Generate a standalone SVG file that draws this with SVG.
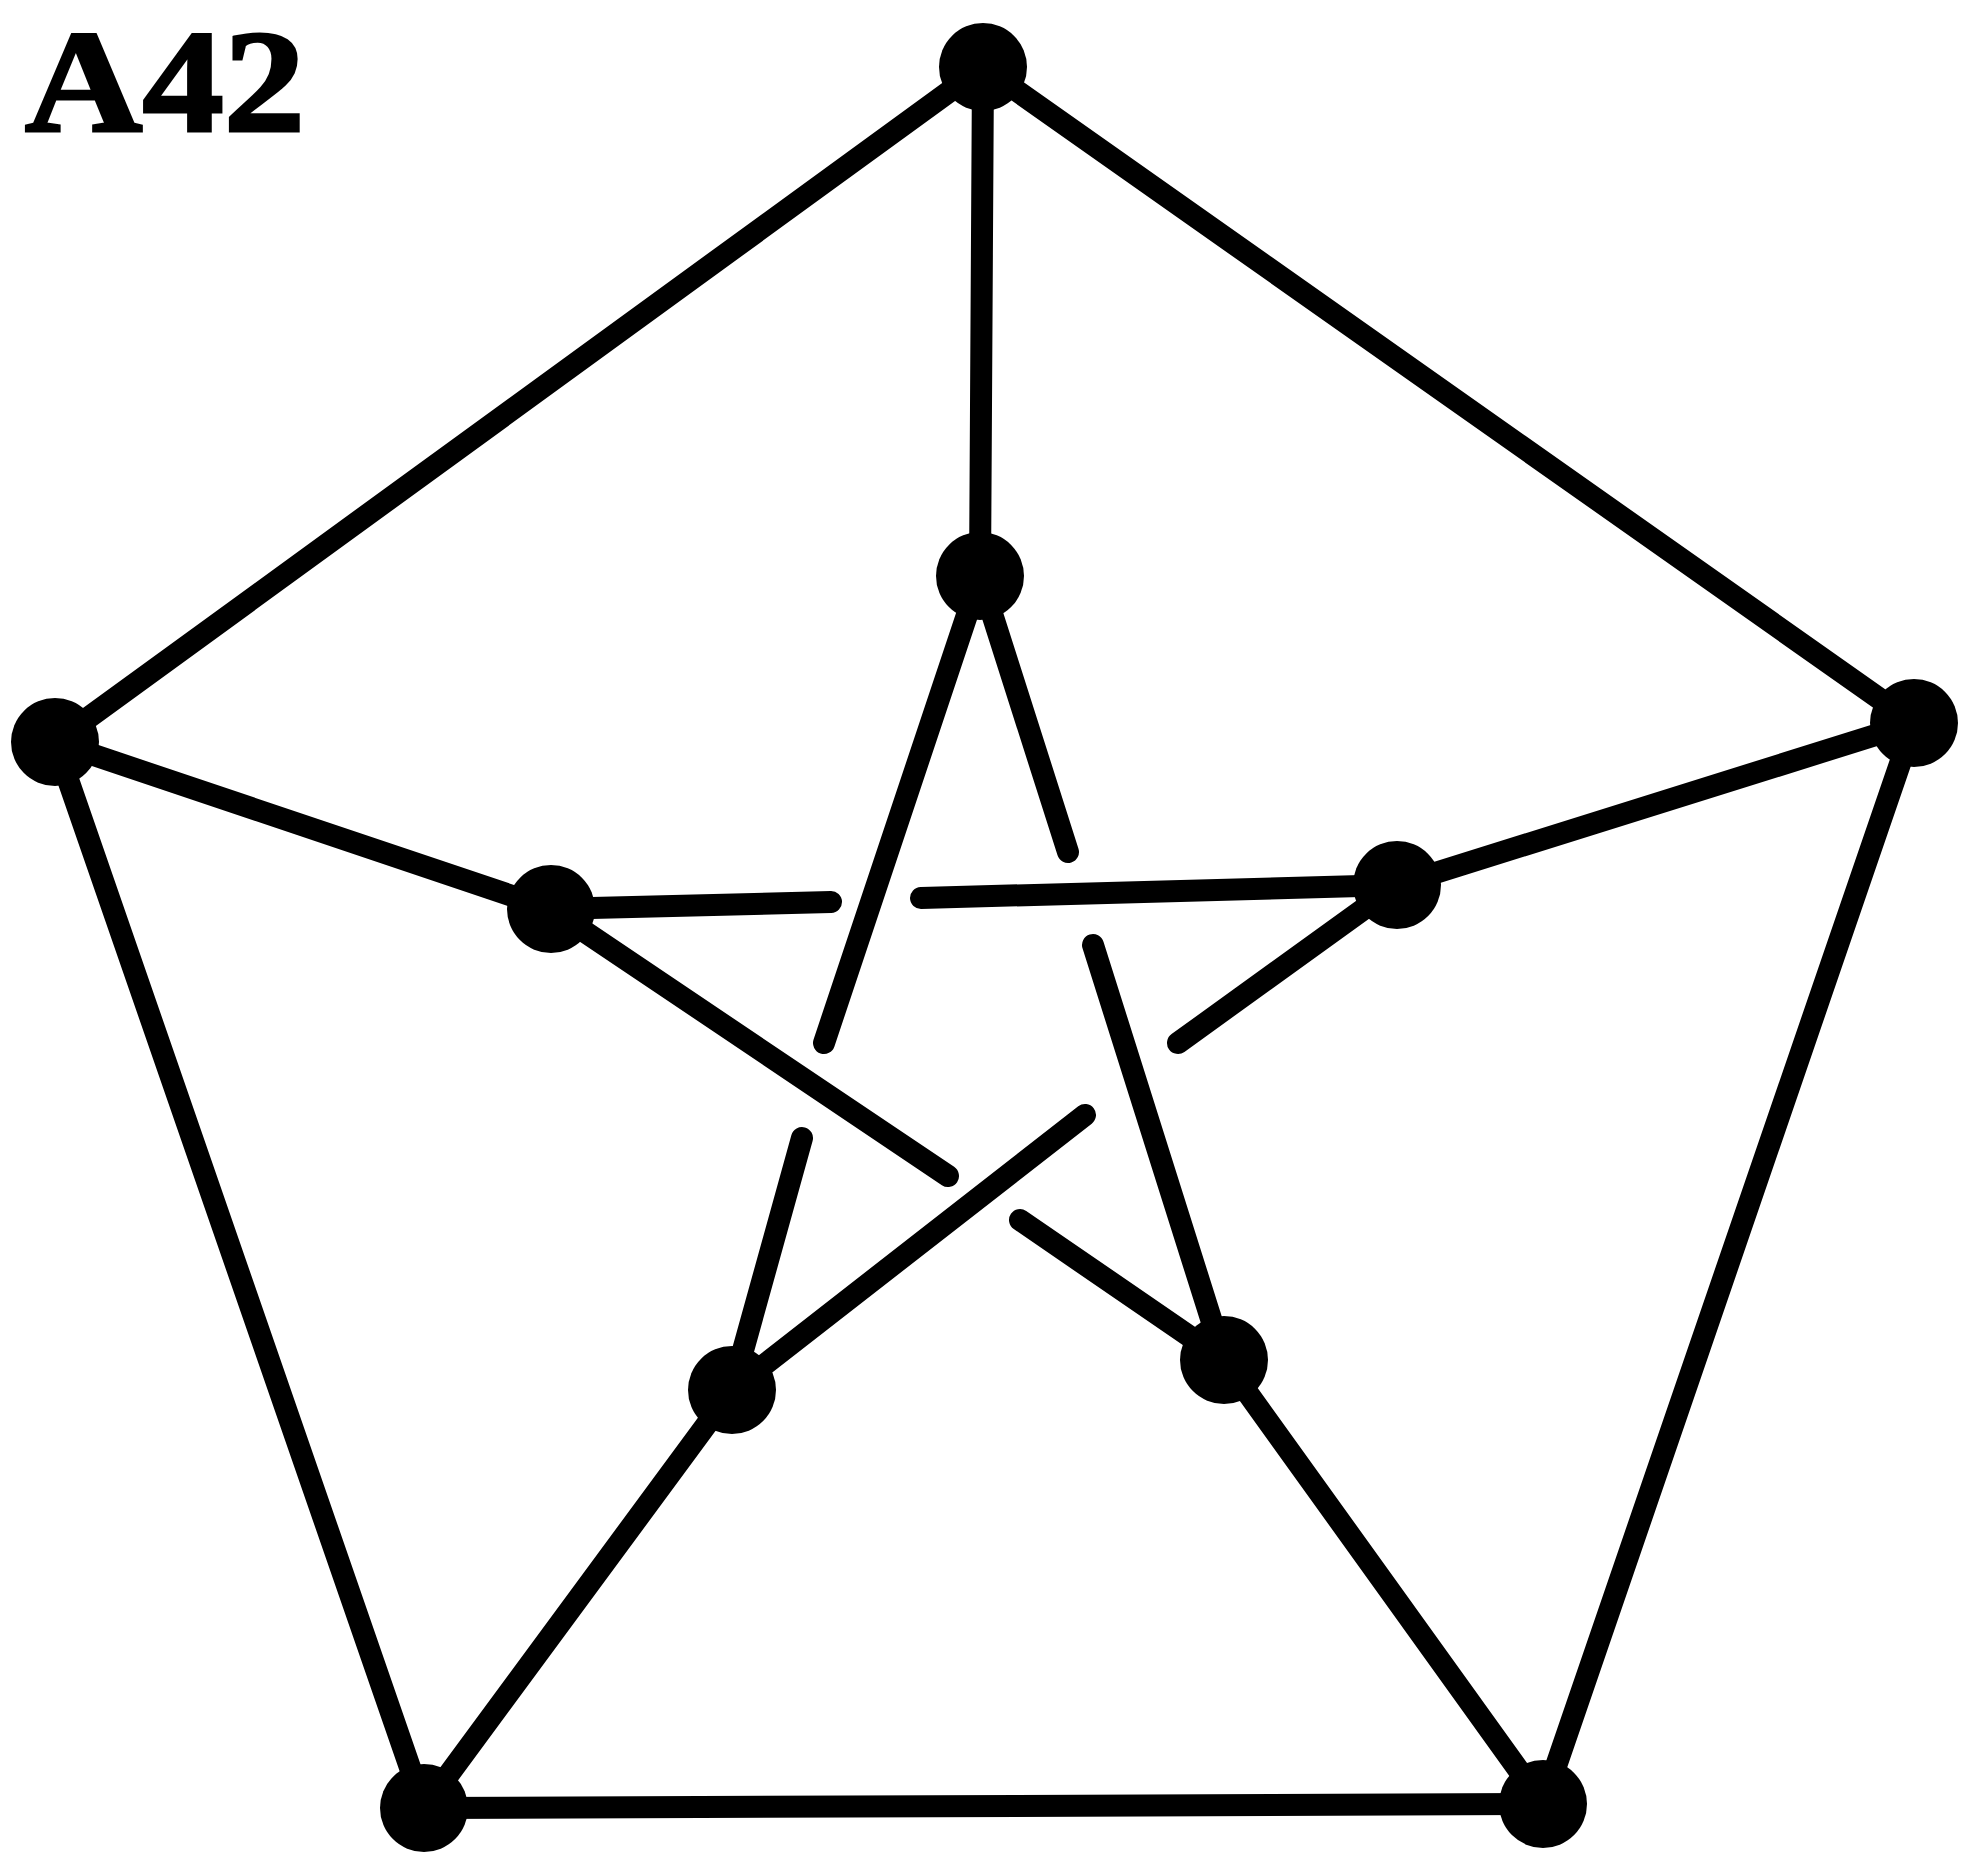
<svg xmlns="http://www.w3.org/2000/svg" width="1964" height="1853" viewBox="0 0 1964 1853">
<style>
.edge{stroke:#000;stroke-width:22;stroke-linecap:round;fill:none}
.node{fill:#000}
.label{font-family:"Liberation Serif","Times New Roman",serif;font-weight:bold;font-size:146px;fill:#000;stroke:#000;stroke-width:3}
</style>
<rect width="1964" height="1853" fill="#fff"/>
<text class="label" x="25" y="131" textLength="280" lengthAdjust="spacingAndGlyphs">A42</text>
<g id="connectors">
<line class="edge" x1="983" y1="67" x2="55" y2="742"/>
<line class="edge" x1="983" y1="67" x2="1914" y2="723"/>
<line class="edge" x1="55" y1="742" x2="424" y2="1808"/>
<line class="edge" x1="1914" y1="723" x2="1543" y2="1804"/>
<line class="edge" x1="424" y1="1808" x2="1543" y2="1804"/>
<line class="edge" x1="983" y1="67" x2="980" y2="576"/>
<line class="edge" x1="55" y1="742" x2="551" y2="909"/>
<line class="edge" x1="1914" y1="723" x2="1397" y2="885"/>
<line class="edge" x1="424" y1="1808" x2="732" y2="1390"/>
<line class="edge" x1="1543" y1="1804" x2="1224" y2="1360"/>
<line class="edge" x1="980" y1="576" x2="824" y2="1043"/>
<line class="edge" x1="802" y1="1138" x2="732" y2="1390"/>
<line class="edge" x1="551" y1="909" x2="831" y2="902"/>
<line class="edge" x1="921" y1="898" x2="1397" y2="885"/>
<line class="edge" x1="551" y1="909" x2="948" y2="1176"/>
<line class="edge" x1="1020" y1="1220" x2="1224" y2="1360"/>
<line class="edge" x1="732" y1="1390" x2="1085" y2="1115"/>
<line class="edge" x1="1178" y1="1043" x2="1397" y2="885"/>
<line class="edge" x1="980" y1="576" x2="1068" y2="852"/>
<line class="edge" x1="1093" y1="945" x2="1224" y2="1360"/>
</g>
<g id="n-top"><circle class="node" cx="983" cy="67" r="44"/></g>
<g id="n-left"><circle class="node" cx="55" cy="742" r="44"/></g>
<g id="n-right"><circle class="node" cx="1914" cy="723" r="44"/></g>
<g id="n-bottomleft"><circle class="node" cx="424" cy="1808" r="44"/></g>
<g id="n-bottomright"><circle class="node" cx="1543" cy="1804" r="44"/></g>
<g id="n-inner-top"><circle class="node" cx="980" cy="576" r="44"/></g>
<g id="n-inner-left"><circle class="node" cx="551" cy="909" r="44"/></g>
<g id="n-inner-right"><circle class="node" cx="1397" cy="885" r="44"/></g>
<g id="n-inner-bottomleft"><circle class="node" cx="732" cy="1390" r="44"/></g>
<g id="n-inner-bottomright"><circle class="node" cx="1224" cy="1360" r="44"/></g>
</svg>
